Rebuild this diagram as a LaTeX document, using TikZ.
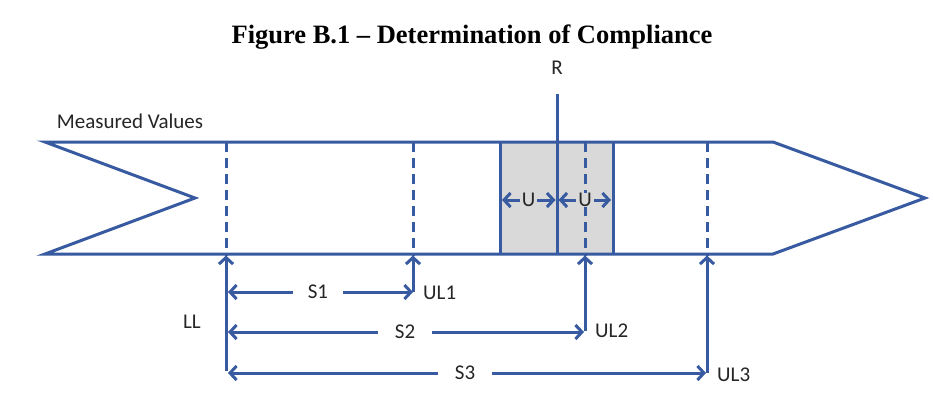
\documentclass[tikz,border=0pt]{standalone}
\usepackage{fontspec}
\setmainfont{Carlito}
\newfontfamily\titlefont{Liberation Serif}
\usetikzlibrary{arrows.meta}
\definecolor{lineblue}{RGB}{55,90,160}
\definecolor{boxgray}{RGB}{217,217,217}
\definecolor{txt}{RGB}{38,38,38}
\begin{document}
\begin{tikzpicture}[x=1pt,y=-1pt,
  line/.style={draw=lineblue,line width=3pt},
  dashline/.style={line,dash pattern=on 10pt off 6pt},
  tip/.tip={Straight Barb[length=6.5pt,width=14pt,line width=3pt]},
  arr/.style={line,-tip},
  lbl/.style={font=\fontsize{21}{21}\selectfont,text=txt,inner sep=0pt},
  gaplbl/.style={lbl,inner xsep=12pt}
]
\useasboundingbox[fill=white] (0,0) rectangle (933,405);
% title
\node[font=\titlefont\bfseries\fontsize{26.5}{26.5}\selectfont,text=black,inner sep=0pt] (title) at (472,37) {Figure B.1 – Determination of Compliance};
\node[lbl] (R) at (557,68) {R};
\node[lbl] (mv) at (130,121) {Measured Values};
% gray box
\fill[boxgray] (500,142) rectangle (613,254);
\draw[line] (500,142) -- (500,254) (613,142) -- (613,254);
% band
\draw[line,line join=miter] (45,142) coordinate (tl) -- (773,142) -- (925,198) coordinate (tipR) -- (773,254) -- (45,254) coordinate (bl) -- (195,198) coordinate (notch) -- cycle;
% dashed lines
\foreach \x/\n in {226/LL,413/UL1,585/UL2,707/UL3}{
  \coordinate (\n t) at (\x,142);
  \coordinate (\n b) at (\x,255.5);
  \draw[dashline] (\n t) -- (\n b);
}
% R line
\coordinate (Rtop) at (557,94);
\coordinate (Rbot) at (557,254);
\draw[line] (Rtop) -- (Rbot);
% U arrows
\coordinate (Ua) at (502,200);
\coordinate (Ub) at (555.5,200);
\coordinate (Uc) at (558.5,200);
\coordinate (Ud) at (611,200);
\draw[line,tip-tip] (Ua) -- (Ub);
\draw[line,tip-tip] (Uc) -- (Ud);
\node[lbl,fill=boxgray,inner xsep=2pt] (U1) at (528.5,200) {U};
\node[lbl,fill=boxgray,inner xsep=2pt] (U2) at (585,200) {U};
% vertical arrows
\coordinate (LLf) at (226,371);
\coordinate (UL1f) at (413,292);
\coordinate (UL2f) at (585,331);
\coordinate (UL3f) at (707,373);
\draw[arr] (LLf) -- (LLb);
\draw[arr] (UL1f) -- (UL1b);
\draw[arr] (UL2f) -- (UL2b);
\draw[arr] (UL3f) -- (UL3b);
% span arrows
\node[gaplbl,inner xsep=15pt] (S1) at (318,292) {S1};
\node[gaplbl,inner xsep=17pt] (S2) at (405,332) {S2};
\node[gaplbl,inner xsep=17pt] (S3) at (465,373) {S3};
\draw[arr] (S1.west) -- (228,292);
\draw[arr] (S1.east) -- (UL1f);
\draw[arr] (S2.west) -- (228,332);
\draw[arr] (S2.east) -- (584,332);
\draw[arr] (S3.west) -- (228,373);
\draw[arr] (S3.east) -- (706,373);
% labels
\node[lbl] (LL) at (192,322) {LL};
\node[lbl,anchor=west] (UL1) at (423,293) {UL1};
\node[lbl,anchor=west] (UL2) at (595,331) {UL2};
\node[lbl,anchor=west] (UL3) at (717,375) {UL3};
\end{tikzpicture}
\end{document}
